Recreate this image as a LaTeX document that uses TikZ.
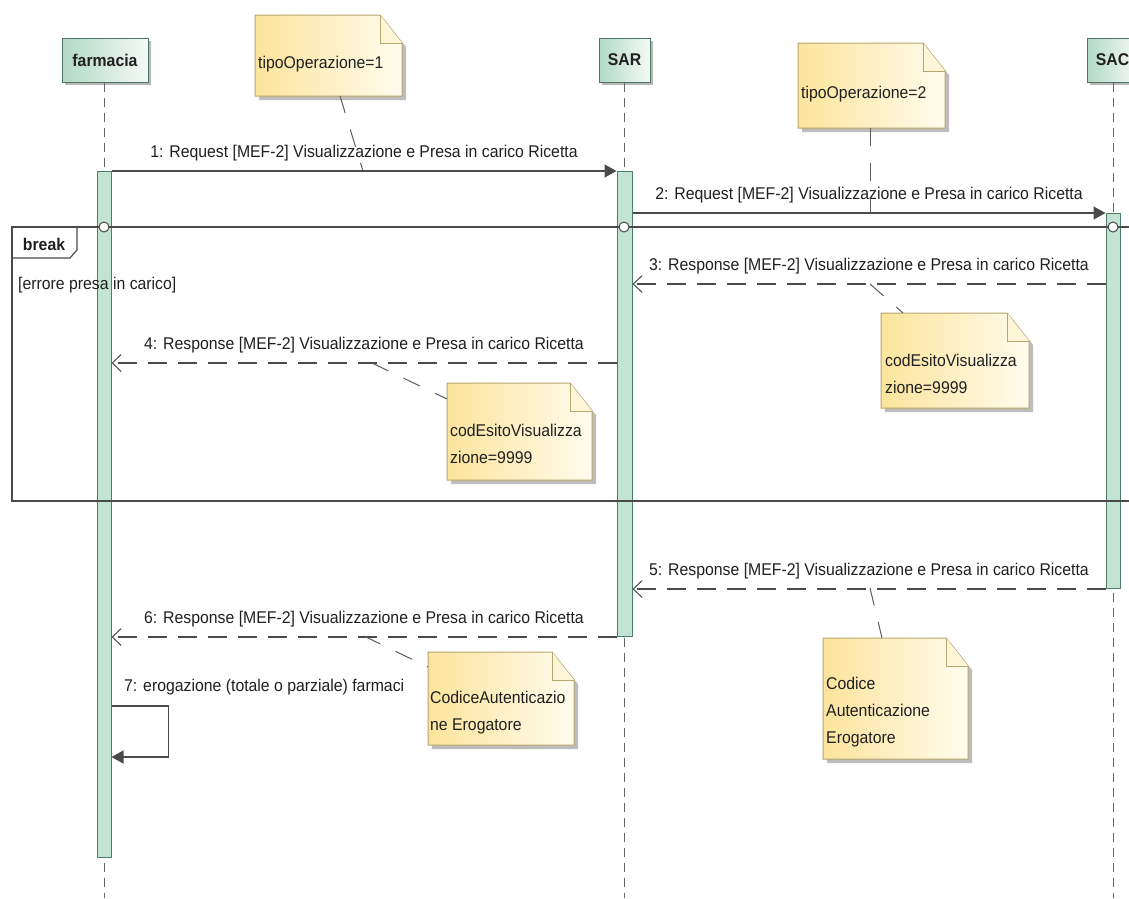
\documentclass[tikz,border=0pt]{standalone}
\usepackage{fontspec}
\setmainfont[FakeStretch=0.93]{Liberation Sans}
\usetikzlibrary{arrows.meta,shadows}
\definecolor{headL}{HTML}{B2D9C6}
\definecolor{headR}{HTML}{F4FAF7}
\definecolor{headB}{HTML}{4F7565}
\definecolor{barF}{HTML}{C3E4D3}
\definecolor{barB}{HTML}{4E7C68}
\definecolor{noteL}{HTML}{FCE49C}
\definecolor{noteR}{HTML}{FFFCEE}
\definecolor{noteB}{HTML}{B7A66E}
\definecolor{noteE}{HTML}{FFF6D8}
\definecolor{shadowc}{HTML}{BDBDBD}
\definecolor{linec}{HTML}{4A4A4A}
\definecolor{txtc}{HTML}{202020}
\newcommand\dognote[4]{%
  \fill[shadowc] ({#1+4},{#2+4}) -- ({#3+4-22},{#2+4}) -- ({#3+4},{#2+4+28}) -- ({#3+4},{#4+4}) -- ({#1+4},{#4+4}) -- cycle;
  \shadedraw[left color=noteL, right color=noteR, draw=noteB, line width=1pt]
    (#1,#2) -- ({#3-22},#2) -- (#3,{#2+28}) -- (#3,#4) -- (#1,#4) -- cycle;
  \filldraw[fill=noteE, draw=noteB, line width=1pt] ({#3-22},#2) -- ({#3-22},{#2+28}) -- (#3,{#2+28});
}
\begin{document}
\begin{tikzpicture}[x=1pt,y=-1pt,
  font=\fontsize{17}{27}\selectfont, text=txtc,
  lifeline/.style={draw=linec!85, line width=0.9pt, dash pattern=on 9pt off 6pt},
  head/.style={draw=headB, line width=1pt, left color=headL, right color=headR,
    font=\fontsize{17}{27}\selectfont\bfseries, inner sep=0pt,
    drop shadow={shadow xshift=3pt, shadow yshift=-3pt, fill=black, opacity=0.28}},
  actbar/.style={draw=barB, fill=barF, line width=1pt, minimum width=14pt, inner sep=0pt, anchor=north},
  sync/.style={draw=linec, line width=1.2pt, -{Triangle[length=12pt,width=13pt]}},
  ret/.style={draw=linec, line width=1.2pt, dash pattern=on 19pt off 11pt,
    -{Straight Barb[length=9pt,width=17pt,line width=1pt]}},
  msglabel/.style={anchor=base, yshift=14pt, inner sep=0pt},
  notelink/.style={draw=linec!90, line width=1pt, dash pattern=on 18pt off 17pt},
  frm/.style={draw=linec, line width=1.2pt},
  lifecirc/.style={circle, draw=linec, fill=white, line width=1pt, inner sep=0pt, minimum size=10pt},
  notetxt/.style={anchor=west, align=left, inner sep=0pt},
]
\useasboundingbox (0,0) rectangle (1129,898);
\fill[white] (0,0) rectangle (1129,898);

% heads
\node[head, minimum width=86pt, minimum height=44pt] (farm) at (105,60) {farmacia};
\node[head, minimum width=51pt, minimum height=44pt] (sar) at (624.5,60) {SAR};
\node[head, minimum width=51pt, minimum height=44pt] (sac) at (1112.5,60) {SAC};

% lifeline ends
\coordinate (farmend) at (104,898);
\coordinate (sarend) at (624,898);
\coordinate (sacend) at (1113,898);
\draw[lifeline] (farm.south -| farmend) -- (farmend);
\draw[lifeline] (sar.south -| sarend) -- (sarend);
\draw[lifeline] (sac.south -| sacend) -- (sacend);

% activation bars
\node[actbar, minimum height=686pt] (fbar) at (104,171) {};
\node[actbar, minimum height=465pt, minimum width=15pt] (sbar) at (624.5,171) {};
\node[actbar, minimum height=375pt] (cbar) at (1113,213) {};

% notes (shapes)
\dognote{255}{15}{402}{96}
\dognote{798}{43}{945}{128}
\dognote{881}{313}{1029}{408}
\dognote{447}{383}{592}{480}
\dognote{823}{638}{968}{759}
\dognote{428}{652}{574}{745}

\node[notetxt] (n1) at (258,64) {tipoOperazione=1};
\node[notetxt] (n2) at (801,94) {tipoOperazione=2};
\node[notetxt] (n3) at (885,374) {codEsitoVisualizza\\zione=9999};
\node[notetxt] (n4) at (450,444) {codEsitoVisualizza\\zione=9999};
\node[notetxt] (n5) at (826,712) {Codice\\Autenticazione\\Erogatore};
\node[notetxt] (n6) at (430,713) {CodiceAutenticazio\\ne Erogatore};

% y levels
\coordinate (y3) at (0,284);
\coordinate (y4) at (0,363);
\coordinate (y7a) at (0,706);
\coordinate (y7b) at (0,757);

% break frame
\coordinate (ftl) at (12,227);
\coordinate (fbr) at (1145,501);
\draw[frm] (ftl) rectangle (fbr);
\draw[frm] (ftl) -- (12,258) -- (70,258) -- (77,250) -- (77,227);
\node[font=\fontsize{17}{27}\selectfont\bfseries, inner sep=0pt] (brk) at (44,244) {break};
\node[anchor=west, inner sep=0pt] (guard) at (18,285) {[errore presa in carico]};
\node[lifecirc] (c1) at (farmend |- ftl) {};
\node[lifecirc] (c2) at (sarend |- ftl) {};
\node[lifecirc] (c3) at (sacend |- ftl) {};

% messages
\draw[sync] (fbar.north east) -- node[msglabel] (m1) {1: Request [MEF-2] Visualizzazione e Presa in carico Ricetta} (sbar.north west);
\draw[sync] (sbar.east |- cbar.north) -- node[msglabel] (m2) {2: Request [MEF-2] Visualizzazione e Presa in carico Ricetta} (cbar.north west);
\draw[ret] (cbar.west |- y3) -- node[msglabel] (m3) {3: Response [MEF-2] Visualizzazione e Presa in carico Ricetta} (sbar.east |- y3);
\draw[ret] (sbar.west |- y4) -- node[msglabel] (m4) {4: Response [MEF-2] Visualizzazione e Presa in carico Ricetta} (fbar.east |- y4);
\draw[ret] (cbar.south west) -- node[msglabel] (m5) {5: Response [MEF-2] Visualizzazione e Presa in carico Ricetta} (sbar.east |- cbar.south);
\draw[ret] (sbar.south west) -- node[msglabel] (m6) {6: Response [MEF-2] Visualizzazione e Presa in carico Ricetta} (fbar.east |- sbar.south);
\node[anchor=base west, inner sep=0pt] (m7) at (124,691) {7: erogazione (totale o parziale) farmaci};
\draw[sync] (fbar.east |- y7a) -- ++(57,0) -- ++(0,51) -- (fbar.east |- y7b);

% note links
\coordinate (l1a) at (340,96);  \coordinate (l1b) at (363,171);
\coordinate (l2a) at (870,128); \coordinate (l2b) at (870,213);
\coordinate (l3a) at (870,284); \coordinate (l3b) at (903,313);
\coordinate (l4a) at (372,363); \coordinate (l4b) at (447,399);
\coordinate (l5a) at (870,588); \coordinate (l5b) at (882,638);
\coordinate (l6a) at (364,636); \coordinate (l6b) at (428,667);
\draw[notelink] (l1a) -- (l1b);
\draw[notelink] (l2a) -- (l2b);
\draw[notelink] (l3a) -- (l3b);
\draw[notelink] (l4a) -- (l4b);
\draw[notelink] (l5a) -- (l5b);
\draw[notelink] (l6a) -- (l6b);
\end{tikzpicture}
\end{document}
